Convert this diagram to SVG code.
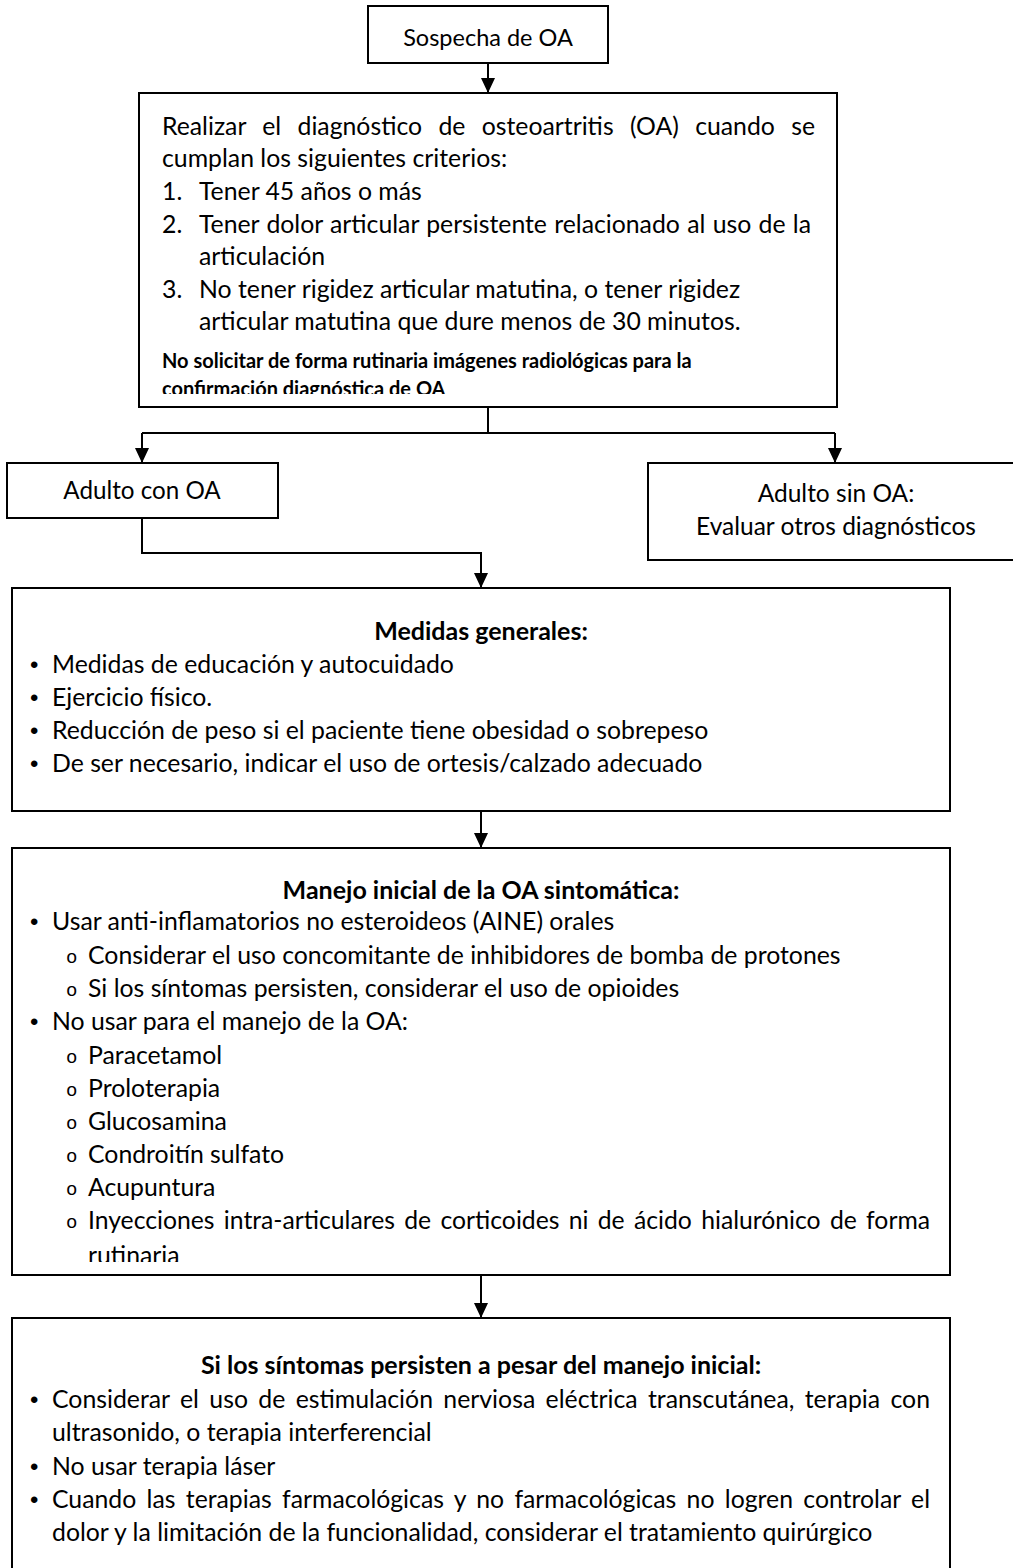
<svg xmlns="http://www.w3.org/2000/svg" width="1013" height="1568" viewBox="0 0 1013 1568">
<style>
  .box { fill: #ffffff; stroke: #000000; stroke-width: 2; }
  .t { font-family: Lato, "Open Sans", "Liberation Sans", sans-serif; font-size: 24.8px; fill: #000000; }
  .b { font-weight: bold; font-size: 25px; }
  .sm { font-size: 20px; }
  .c { text-anchor: middle; }
  .bul { font-family: "Liberation Sans", sans-serif; font-size: 24px; }
  .sub { font-family: "Liberation Mono", monospace; font-size: 19px; }
  .conn { fill: none; stroke: #000000; stroke-width: 2; }
</style>
<defs>
  <marker id="arr" markerUnits="userSpaceOnUse" markerWidth="16" markerHeight="16" viewBox="0 0 16 16" refX="15" refY="8" orient="auto">
    <path d="M0,1 L15,8 L0,15 z" fill="#000000"/>
  </marker>
  <clipPath id="clip2"><rect x="139" y="93" width="698" height="301"/></clipPath>
  <clipPath id="clip5"><rect x="12" y="848" width="938" height="414"/></clipPath>
</defs>
<rect width="1013" height="1568" fill="#ffffff"/>

<g id="connectors">
  <path class="conn" d="M488,63 V93" marker-end="url(#arr)"/>
  <path class="conn" d="M488,407 V433 M142,433 H835"/>
  <path class="conn" d="M142,433 V463" marker-end="url(#arr)"/>
  <path class="conn" d="M835,433 V463" marker-end="url(#arr)"/>
  <path class="conn" d="M142,518 V553 H481 V588" marker-end="url(#arr)"/>
  <path class="conn" d="M481,811 V848" marker-end="url(#arr)"/>
  <path class="conn" d="M481,1275 V1318" marker-end="url(#arr)"/>
</g>

<g id="n1">
  <rect class="box" x="368" y="6" width="240" height="57"/>
  <text class="t c" x="488" y="46" style="font-size:23.5px">Sospecha de OA</text>
</g>

<g id="n2">
  <rect class="box" x="139" y="93" width="698" height="314"/>
  <g clip-path="url(#clip2)">
    <text class="t" x="162" y="135" word-spacing="10" textLength="653" lengthAdjust="spacingAndGlyphs">Realizar el diagnóstico de osteoartritis (OA) cuando se</text>
    <text class="t" x="162" y="167">cumplan los siguientes criterios:</text>
    <text class="t" x="162" y="200">1.</text>
    <text class="t" x="199" y="200">Tener 45 años o más</text>
    <text class="t" x="162" y="233">2.</text>
    <text class="t" x="199" y="233" textLength="612" lengthAdjust="spacing" word-spacing="1">Tener dolor articular persistente relacionado al uso de la</text>
    <text class="t" x="199" y="265">articulación</text>
    <text class="t" x="162" y="298">3.</text>
    <text class="t" x="199" y="298">No tener rigidez articular matutina, o tener rigidez</text>
    <text class="t" x="199" y="330">articular matutina que dure menos de 30 minutos.</text>
    <text class="t b sm" x="162" y="368">No solicitar de forma rutinaria imágenes radiológicas para la</text>
    <text class="t b sm" x="162" y="396">confirmación diagnóstica de OA</text>
  </g>
</g>

<g id="n3">
  <rect class="box" x="7" y="463" width="271" height="55"/>
  <text class="t c" x="142" y="499" style="font-size:24.2px">Adulto con OA</text>
</g>

<g id="n4">
  <rect class="box" x="648" y="463" width="380" height="97"/>
  <text class="t c" x="836" y="502" style="font-size:24.5px">Adulto sin OA:</text>
  <text class="t c" x="836" y="535" style="font-size:24.5px">Evaluar otros diagnósticos</text>
</g>

<g id="n5">
  <rect class="box" x="12" y="588" width="938" height="223"/>
  <text class="t b c" x="481" y="640">Medidas generales:</text>
  <text class="bul" x="30" y="673">•</text><text class="t" x="52" y="673">Medidas de educación y autocuidado</text>
  <text class="bul" x="30" y="706">•</text><text class="t" x="52" y="706">Ejercicio físico.</text>
  <text class="bul" x="30" y="739">•</text><text class="t" x="52" y="739">Reducción de peso si el paciente tiene obesidad o sobrepeso</text>
  <text class="bul" x="30" y="772">•</text><text class="t" x="52" y="772">De ser necesario, indicar el uso de ortesis/calzado adecuado</text>
</g>

<g id="n6">
  <rect class="box" x="12" y="848" width="938" height="427"/>
  <text class="t b c" x="481" y="899">Manejo inicial de la OA sintomática:</text>
  <g clip-path="url(#clip5)">
    <text class="bul" x="30" y="930">•</text><text class="t" x="52" y="930">Usar anti-inflamatorios no esteroideos (AINE) orales</text>
    <text class="sub" x="66" y="963">o</text><text class="t" x="88" y="964">Considerar el uso concomitante de inhibidores de bomba de protones</text>
    <text class="sub" x="66" y="996">o</text><text class="t" x="88" y="997">Si los síntomas persisten, considerar el uso de opioides</text>
    <text class="bul" x="30" y="1030">•</text><text class="t" x="52" y="1030">No usar para el manejo de la OA:</text>
    <text class="sub" x="66" y="1063">o</text><text class="t" x="88" y="1064">Paracetamol</text>
    <text class="sub" x="66" y="1096">o</text><text class="t" x="88" y="1097">Proloterapia</text>
    <text class="sub" x="66" y="1129">o</text><text class="t" x="88" y="1130">Glucosamina</text>
    <text class="sub" x="66" y="1162">o</text><text class="t" x="88" y="1163">Condroitín sulfato</text>
    <text class="sub" x="66" y="1195">o</text><text class="t" x="88" y="1196">Acupuntura</text>
    <text class="sub" x="66" y="1228">o</text><text class="t" x="88" y="1229" word-spacing="3" textLength="842" lengthAdjust="spacingAndGlyphs">Inyecciones intra-articulares de corticoides ni de ácido hialurónico de forma</text>
    <text class="t" x="88" y="1264">rutinaria</text>
  </g>
</g>

<g id="n7">
  <rect class="box" x="12" y="1318" width="938" height="280"/>
  <text class="t b c" x="481" y="1374">Si los síntomas persisten a pesar del manejo inicial:</text>
  <text class="bul" x="30" y="1408">•</text><text class="t" x="52" y="1408" word-spacing="4" textLength="878" lengthAdjust="spacingAndGlyphs">Considerar el uso de estimulación nerviosa eléctrica transcutánea, terapia con</text>
  <text class="t" x="52" y="1441">ultrasonido, o terapia interferencial</text>
  <text class="bul" x="30" y="1475">•</text><text class="t" x="52" y="1475">No usar terapia láser</text>
  <text class="bul" x="30" y="1508">•</text><text class="t" x="52" y="1508" word-spacing="4" textLength="878" lengthAdjust="spacingAndGlyphs">Cuando las terapias farmacológicas y no farmacológicas no logren controlar el</text>
  <text class="t" x="52" y="1541">dolor y la limitación de la funcionalidad, considerar el tratamiento quirúrgico</text>
</g>
</svg>
